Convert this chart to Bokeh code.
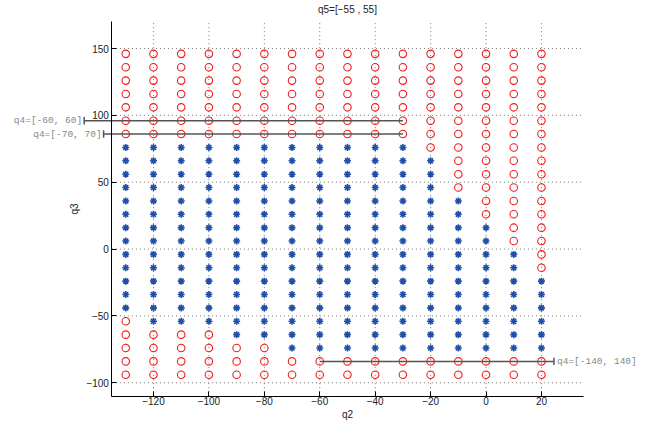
from bokeh.plotting import figure
from bokeh.models import FixedTicker, Range1d
from bokeh.core.properties import value
from bokeh.embed import file_html
from bokeh.resources import INLINE

# ---- data ----
q2 = [-130, -120, -110, -100, -90, -80, -70, -60, -50, -40, -30, -20, -10, 0, 10, 20]
q3 = [146, 136, 126, 116, 106, 96, 86, 76, 66, 56, 46, 36, 26, 16, 6,
      -4, -14, -24, -34, -44, -54, -64, -74, -84, -94]
# 'o' = red circle, '*' = blue star ; one string per q3 row, one char per q2 column
status = [
    "oooooooooooooooo",
    "oooooooooooooooo",
    "oooooooooooooooo",
    "oooooooooooooooo",
    "oooooooooooooooo",
    "oooooooooooooooo",
    "oooooooooooooooo",
    "***********ooooo",
    "************oooo",
    "************oooo",
    "************oooo",
    "*************ooo",
    "*************ooo",
    "**************oo",
    "**************oo",
    "***************o",
    "***************o",
    "****************",
    "****************",
    "****************",
    "o***************",
    "oooo************",
    "oooooo**********",
    "oooooooooooooooo",
    "oooooooooooooooo",
]
# q4 limit annotations
q4_labels = ["q4=[-60, 60]", "q4=[-70, 70]", "q4=[-140, 140]"]
q4_y = [96, 86, -84]
q4_x0 = [-145, -138, -60]
q4_x1 = [-30, -30, 24.5]
q4_side = ["left", "left", "right"]

x_ticks = [-120, -100, -80, -60, -40, -20, 0, 20]
y_ticks = [-100, -50, 0, 50, 100, 150]
x_lim = (-135, 35)
y_lim = (-110, 170)
title_text = "q5=[\u221255 , 55]"

# ---- split points ----
cx, cy, sx, sy = [], [], [], []
for i, yv in enumerate(q3):
    for j, xv in enumerate(q2):
        if status[i][j] == "*":
            sx.append(xv); sy.append(yv)
        else:
            cx.append(xv); cy.append(yv)

# frame covers the whole canvas; axes are pinned at the data limits
p = figure(width=646, height=428, x_range=Range1d(-175.2, 57.9), y_range=Range1d(-134.2, 185.9),
           output_backend="svg", toolbar_location=None,
           min_border_left=0, min_border_right=0, min_border_top=0, min_border_bottom=0)
p.outline_line_color = None
p.background_fill_color = "white"
p.border_fill_color = "white"
p.grid.visible = False

def fmt(v):
    return ("\u2212" + str(-v)) if v < 0 else str(v)

p.xaxis.ticker = FixedTicker(ticks=x_ticks)
p.yaxis.ticker = FixedTicker(ticks=y_ticks)
p.xaxis.major_label_overrides = {t: fmt(t) for t in x_ticks}
p.yaxis.major_label_overrides = {t: fmt(t) for t in y_ticks}
p.xaxis.fixed_location = y_lim[0]
p.yaxis.fixed_location = x_lim[0]
p.xaxis.bounds = x_lim
p.yaxis.bounds = y_lim
p.xaxis.axis_label = "q2"
p.yaxis.axis_label = "q3"
for ax in (p.xaxis, p.yaxis):
    ax.major_tick_in = 5
    ax.major_tick_out = 0
    ax.minor_tick_line_color = None
    ax.axis_line_color = "black"
    ax.major_tick_line_color = "black"
    ax.major_label_text_font = "Liberation Sans"
    ax.major_label_text_font_size = "10px"
    ax.major_label_text_color = "#222222"
    ax.axis_label_text_font = "Liberation Sans"
    ax.axis_label_text_font_size = "10px"
    ax.axis_label_text_font_style = "normal"
    ax.axis_label_text_color = "#222222"
p.xaxis.major_label_standoff = 1
p.xaxis.axis_label_standoff = 0
p.yaxis.major_label_standoff = 3
p.yaxis.axis_label_standoff = 3

# dotted grid at the tick positions, limited to the axes box
p.segment(x0=x_ticks, y0=[y_lim[0]] * len(x_ticks), x1=x_ticks, y1=[y_lim[1]] * len(x_ticks),
          line_color="#777777", line_dash="1 3", line_width=1)
p.segment(x0=[x_lim[0]] * len(y_ticks), y0=y_ticks, x1=[x_lim[1]] * len(y_ticks), y1=y_ticks,
          line_color="#777777", line_dash="1 3", line_width=1)

p.scatter(cx, cy, marker="circle", size=7.5, fill_color=None, line_color="#f01c1c", line_width=1.1)
p.scatter(sx, sy, marker="asterisk", size=7, line_color="#1f4fa8", line_width=1.6)

# q4 annotations
p.segment(x0=q4_x0, y0=q4_y, x1=q4_x1, y1=q4_y, line_color="#555555", line_width=1.5)
bar_x = [a if s == "left" else b for a, b, s in zip(q4_x0, q4_x1, q4_side)]
p.segment(x0=bar_x, y0=[v - 2.8 for v in q4_y], x1=bar_x, y1=[v + 2.8 for v in q4_y],
          line_color="#555555", line_width=1.5)
for lab, yv, bx, side in zip(q4_labels, q4_y, bar_x, q4_side):
    p.text(x=[bx], y=[yv], text=[lab],
           text_align="right" if side == "left" else "left", text_baseline="middle",
           x_offset=-2 if side == "left" else 3,
           text_font=value("Liberation Mono"), text_font_size="9.5px", text_color="#888888")

# title centred over the axes box
p.text(x=[(x_lim[0] + x_lim[1]) / 2], y=[y_lim[1]], text=[title_text], text_align="center",
       text_baseline="middle", y_offset=-12, text_font=value("Liberation Sans"),
       text_font_size="10px", text_color="#222222")

open("out.html", "w").write(file_html(p, INLINE))
